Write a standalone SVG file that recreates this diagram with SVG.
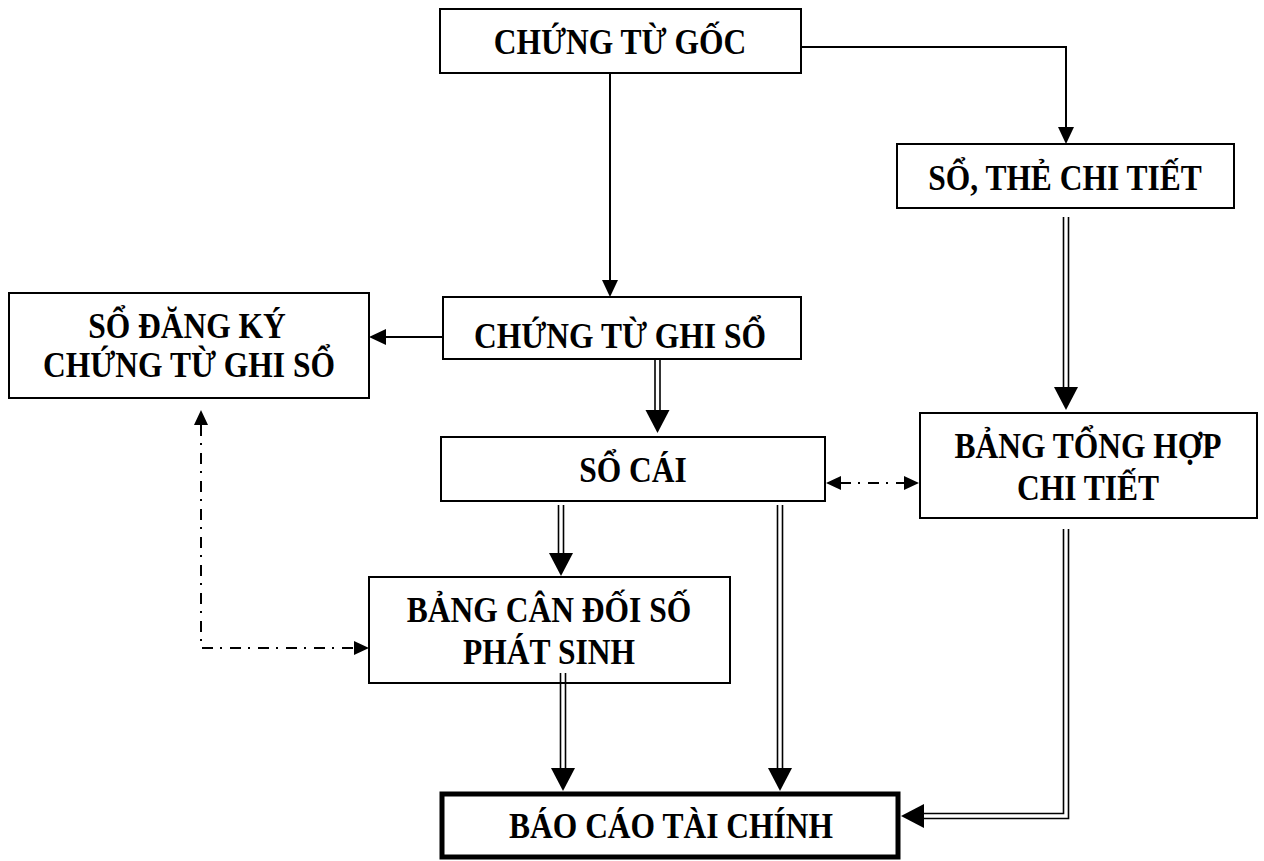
<svg xmlns="http://www.w3.org/2000/svg" width="1264" height="861" viewBox="0 0 1264 861">
  <style>
    .box { fill: #fff; stroke: #000; stroke-width: 2; }
    .thick { stroke-width: 5; }
    .lbl { font-family: "Liberation Serif", "Times New Roman", serif; font-weight: bold; font-size: 35px; fill: #000; text-anchor: middle; }
    .ln { fill: none; stroke: #000; stroke-width: 2; }
    .dbl { fill: none; stroke: #000; stroke-width: 1.6; }
    .dash { fill: none; stroke: #000; stroke-width: 2; stroke-dasharray: 11 7 2 8; }
    .head { fill: #000; }
  </style>
  <defs>
    <!-- arrowheads pointing down, tip at origin -->
    <polygon id="hSmall" points="0,0 -8,-17 8,-17"/>
    <polygon id="hBig" points="0,0 -12,-23 12,-23"/>
    <polygon id="hDash" points="0,0 -7,-15 7,-15"/>
  </defs>

  <g id="n-chung-tu-goc">
    <rect class="box" x="440" y="9" width="361" height="64"/>
    <text class="lbl" transform="translate(620 54) scale(0.9 1)">CHỨNG TỪ GỐC</text>
  </g>
  <g id="n-so-the-chi-tiet">
    <rect class="box" x="897" y="144" width="337" height="64"/>
    <text class="lbl" transform="translate(1065 190) scale(0.9 1)">SỔ, THẺ CHI TIẾT</text>
  </g>
  <g id="n-so-dang-ky">
    <rect class="box" x="9" y="293" width="360" height="105"/>
    <text class="lbl" transform="translate(187 338) scale(0.9 1)">SỔ ĐĂNG KÝ</text>
    <text class="lbl" transform="translate(189 377) scale(0.9 1)">CHỨNG TỪ GHI SỔ</text>
  </g>
  <g id="n-chung-tu-ghi-so">
    <rect class="box" x="443" y="297" width="358" height="62"/>
    <text class="lbl" transform="translate(620 348) scale(0.9 1)">CHỨNG TỪ GHI SỔ</text>
  </g>
  <g id="n-so-cai">
    <rect class="box" x="441" y="437" width="384" height="64"/>
    <text class="lbl" transform="translate(633 482) scale(0.9 1)">SỔ CÁI</text>
  </g>
  <g id="n-bang-tong-hop">
    <rect class="box" x="920" y="413" width="337" height="105"/>
    <text class="lbl" transform="translate(1088 458) scale(0.9 1)">BẢNG TỔNG HỢP</text>
    <text class="lbl" transform="translate(1088 500) scale(0.9 1)">CHI TIẾT</text>
  </g>
  <g id="n-bang-can-doi">
    <rect class="box" x="369" y="577" width="361" height="106"/>
    <text class="lbl" transform="translate(549 622) scale(0.9 1)">BẢNG CÂN ĐỐI SỐ</text>
    <text class="lbl" transform="translate(549 664) scale(0.9 1)">PHÁT SINH</text>
  </g>
  <g id="n-bao-cao-tai-chinh">
    <rect class="box thick" x="442" y="794" width="456" height="63"/>
    <text class="lbl" transform="translate(671 838) scale(0.9 1)">BÁO CÁO TÀI CHÍNH</text>
  </g>

  <g id="connectors">
    <!-- CHỨNG TỪ GỐC -> CHỨNG TỪ GHI SỔ -->
    <line class="ln" x1="610" y1="73" x2="610" y2="282"/>
    <use href="#hSmall" class="head" transform="translate(610,297)"/>
    <!-- CHỨNG TỪ GỐC -> SỔ, THẺ CHI TIẾT -->
    <path class="ln" d="M801,47 H1066 V130"/>
    <use href="#hSmall" class="head" transform="translate(1066,144)"/>
    <!-- CHỨNG TỪ GHI SỔ -> SỔ ĐĂNG KÝ -->
    <line class="ln" x1="443" y1="337" x2="384" y2="337"/>
    <use href="#hSmall" class="head" transform="translate(369,337) rotate(90)"/>
    <!-- CHỨNG TỪ GHI SỔ => SỔ CÁI -->
    <line class="dbl" x1="655" y1="359" x2="655" y2="412"/>
    <line class="dbl" x1="660" y1="359" x2="660" y2="412"/>
    <use href="#hBig" class="head" transform="translate(657.5,433)"/>
    <!-- SỔ, THẺ CHI TIẾT => BẢNG TỔNG HỢP -->
    <line class="dbl" x1="1063.5" y1="217" x2="1063.5" y2="390"/>
    <line class="dbl" x1="1068.5" y1="217" x2="1068.5" y2="390"/>
    <use href="#hBig" class="head" transform="translate(1066,410)"/>
    <!-- SỔ CÁI <-> BẢNG TỔNG HỢP -->
    <line class="dash" x1="840" y1="483" x2="904" y2="483" stroke-dasharray="8 6 2 6"/>
    <use href="#hDash" class="head" transform="translate(826,483) rotate(90)"/>
    <use href="#hDash" class="head" transform="translate(919,483) rotate(-90)"/>
    <!-- SỔ ĐĂNG KÝ <-> BẢNG CÂN ĐỐI -->
    <path class="dash" d="M201,425 V648 H354"/>
    <use href="#hDash" class="head" transform="translate(201,410) rotate(180)"/>
    <use href="#hDash" class="head" transform="translate(369,648) rotate(-90)"/>
    <!-- SỔ CÁI => BẢNG CÂN ĐỐI -->
    <line class="dbl" x1="558.5" y1="505" x2="558.5" y2="555"/>
    <line class="dbl" x1="563.5" y1="505" x2="563.5" y2="555"/>
    <use href="#hBig" class="head" transform="translate(561,576)"/>
    <!-- BẢNG CÂN ĐỐI => BÁO CÁO TÀI CHÍNH -->
    <line class="dbl" x1="560.5" y1="673" x2="560.5" y2="770"/>
    <line class="dbl" x1="565.5" y1="673" x2="565.5" y2="770"/>
    <use href="#hBig" class="head" transform="translate(563,791)"/>
    <!-- SỔ CÁI => BÁO CÁO TÀI CHÍNH -->
    <line class="dbl" x1="777.5" y1="505" x2="777.5" y2="770"/>
    <line class="dbl" x1="782.5" y1="505" x2="782.5" y2="770"/>
    <use href="#hBig" class="head" transform="translate(780,791)"/>
    <!-- BẢNG TỔNG HỢP => BÁO CÁO TÀI CHÍNH -->
    <path class="dbl" d="M1063.5,529 V813.5 H921"/>
    <path class="dbl" d="M1068.5,529 V818.5 H921"/>
    <use href="#hBig" class="head" transform="translate(901,816) rotate(90)"/>
  </g>
</svg>
